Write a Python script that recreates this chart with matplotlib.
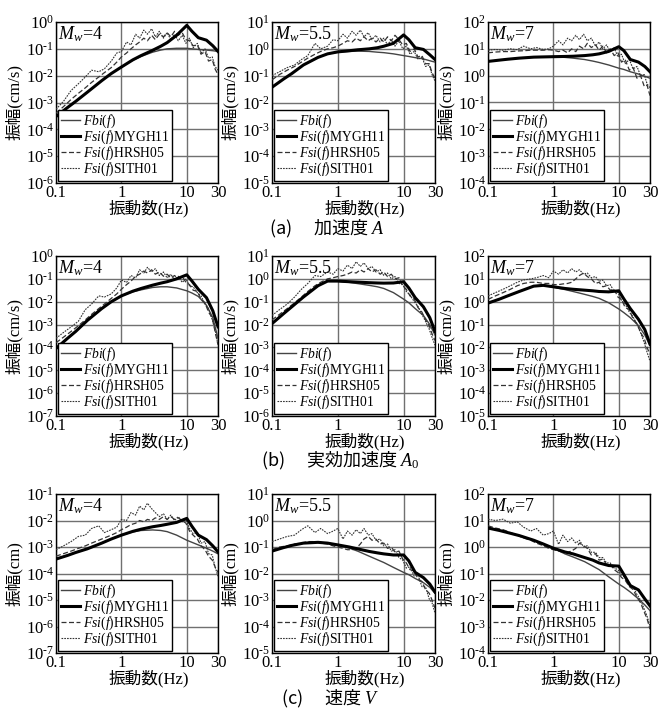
import matplotlib
matplotlib.use('Agg')
import matplotlib.pyplot as plt
from matplotlib.ticker import FixedLocator, FixedFormatter, NullLocator

plt.rcParams['font.family'] = ['Liberation Serif', 'Noto Sans CJK JP']
plt.rcParams['mathtext.fontset'] = 'custom'
plt.rcParams['mathtext.rm'] = 'Liberation Serif'
plt.rcParams['mathtext.it'] = 'Liberation Serif:italic'

# frequencies (Hz): smooth model curves / noisy observed spectra
f_s = [0.1, 0.15, 0.2, 0.3, 0.5, 0.7, 1, 1.5, 2, 3, 4, 5, 7, 10, 12, 15, 20, 25, 30]
f_n = [0.1, 0.13, 0.17, 0.22, 0.28, 0.35, 0.45, 0.55, 0.7, 0.85, 1.0, 1.2, 1.4, 1.65,
       1.9, 2.2, 2.5, 2.9, 3.3, 3.8, 4.4, 5.0, 5.7, 6.5, 7.4, 8.5, 9.7, 11, 12.5, 14.5,
       16.5, 19, 21.5, 24.5, 27, 30]

# (a) acceleration A
a4_fbi = [3e-4, 6.5e-4, 1.1e-3, 2.4e-3, 6.5e-3, 1.2e-2, 2.1e-2, 3.8e-2, 5.2e-2, 7.5e-2, 9e-2, 0.1, 0.105, 0.105, 0.1, 0.095, 0.09, 0.085, 0.08]
a4_mygh = [3e-4, 6.5e-4, 1.1e-3, 2.4e-3, 6.5e-3, 1.2e-2, 2.1e-2, 3.9e-2, 5.6e-2, 8.8e-2, 0.125, 0.17, 0.32, 0.75, 0.45, 0.26, 0.21, 0.13, 0.08]
a4_hrsh = [4e-4, 7e-4, 1.3e-3, 2.2e-3, 3.5e-3, 5.6e-3, 8.9e-3, 1.3e-2, 2e-2, 3.2e-2, 5e-2, 7e-2, 0.1, 0.14, 0.18, 0.25, 0.2, 0.32, 0.22, 0.35, 0.28, 0.4, 0.28, 0.45, 0.32, 0.4, 0.22, 0.2, 0.13, 0.14, 6.3e-2, 7.9e-2, 3.5e-2, 4e-2, 1.8e-2, 1.1e-2]
a4_sith = [5.6e-4, 1.1e-3, 2.8e-3, 5e-3, 8.9e-3, 1.6e-2, 1.4e-2, 1.8e-2, 3.5e-2, 7e-2, 7.9e-2, 0.18, 0.14, 0.35, 0.25, 0.5, 0.35, 0.56, 0.28, 0.45, 0.25, 0.4, 0.22, 0.35, 0.2, 0.32, 0.16, 0.25, 0.11, 0.16, 7e-2, 0.1, 4.5e-2, 5e-2, 2.2e-2, 1.6e-2]

a55_fbi = [0.037, 0.075, 0.12, 0.25, 0.48, 0.65, 0.75, 0.8, 0.82, 0.8, 0.75, 0.72, 0.65, 0.56, 0.52, 0.47, 0.42, 0.36, 0.32]
a55_mygh = [0.037, 0.075, 0.12, 0.25, 0.48, 0.65, 0.77, 0.85, 0.92, 1.0, 1.1, 1.25, 1.6, 3.3, 2.2, 1.1, 0.95, 0.6, 0.4]
a55_hrsh = [0.07, 0.11, 0.16, 0.22, 0.32, 0.45, 0.63, 0.8, 1.0, 1.1, 1.26, 1.6, 2.0, 1.8, 2.5, 2.0, 2.8, 2.0, 2.5, 1.8, 2.5, 1.8, 2.8, 2.0, 3.2, 2.2, 1.4, 1.6, 0.8, 1.0, 0.5, 0.56, 0.28, 0.28, 0.13, 0.08]
a55_sith = [0.1, 0.14, 0.2, 0.25, 0.4, 0.56, 1.6, 1.0, 1.26, 2.2, 2.0, 3.5, 2.5, 4.5, 3.2, 5.0, 2.8, 4.0, 2.2, 3.2, 1.8, 2.5, 1.4, 2.2, 1.26, 2.0, 1.0, 1.26, 0.63, 0.8, 0.4, 0.5, 0.22, 0.25, 0.11, 0.063]

a7_fbi = [3.4, 3.8, 4.1, 4.5, 4.9, 5.0, 5.0, 4.8, 4.5, 4.0, 3.5, 3.1, 2.5, 1.9, 1.7, 1.4, 1.15, 0.95, 0.8]
a7_mygh = [3.4, 3.8, 4.1, 4.5, 4.9, 5.0, 5.1, 5.2, 5.3, 5.6, 6.0, 6.5, 8.0, 12, 8.5, 4.0, 3.2, 2.2, 1.4]
a7_hrsh = [7.1, 7.6, 7.9, 7.9, 8.3, 8.5, 8.9, 8.9, 8.9, 9.3, 8.9, 7.9, 8.9, 7.1, 10, 7.9, 12.6, 10, 16, 11.2, 14, 8.9, 12.6, 7.1, 10, 5.6, 7.1, 3.2, 4.0, 1.6, 2.0, 0.8, 1.0, 0.4, 0.45, 0.18]
a7_sith = [8.9, 9.5, 8.9, 10, 9.3, 12.6, 10, 11.2, 9.5, 10, 12.6, 20, 14, 25, 20, 32, 22, 35, 20, 25, 12.6, 18, 10, 14, 7.9, 11, 5, 6.3, 2.8, 4, 1.8, 2.2, 1.0, 1.1, 0.5, 0.35]

# (b) effective acceleration A0
b4_fbi = [9e-5, 2.5e-4, 5e-4, 1.5e-3, 5e-3, 1e-2, 1.8e-2, 2.7e-2, 3.3e-2, 4.2e-2, 4.5e-2, 4.5e-2, 4e-2, 3e-2, 2.4e-2, 1.7e-2, 7e-3, 2e-3, 2.5e-4]
b4_mygh = [9e-5, 2.5e-4, 5e-4, 1.5e-3, 5e-3, 1e-2, 1.8e-2, 2.9e-2, 3.8e-2, 5.3e-2, 6.5e-2, 7.5e-2, 0.1, 0.15, 0.08, 0.035, 0.015, 4e-3, 8e-4]
b4_hrsh = [1.6e-4, 2.8e-4, 5e-4, 8.9e-4, 1.6e-3, 2.8e-3, 5e-3, 7.9e-3, 1.4e-2, 2.2e-2, 3.5e-2, 5.6e-2, 7.9e-2, 0.13, 0.16, 0.22, 0.18, 0.25, 0.16, 0.2, 0.13, 0.16, 0.11, 0.14, 0.1, 0.13, 7e-2, 5.6e-2, 3.2e-2, 2.8e-2, 1.3e-2, 8.9e-3, 3.5e-3, 2e-3, 5e-4, 1.3e-4]
b4_sith = [2.5e-4, 4.5e-4, 7.9e-4, 1.4e-3, 4.5e-3, 7.9e-3, 1.8e-2, 1.6e-2, 2.2e-2, 4e-2, 8.9e-2, 7e-2, 0.14, 0.11, 0.25, 0.18, 0.32, 0.2, 0.28, 0.14, 0.2, 0.11, 0.16, 8.9e-2, 0.13, 7e-2, 0.1, 5e-2, 4.5e-2, 2.5e-2, 1.8e-2, 7.9e-3, 5e-3, 1.6e-3, 6.3e-4, 1.3e-4]

b55_fbi = [0.011, 0.03, 0.06, 0.16, 0.5, 0.8, 0.78, 0.7, 0.62, 0.52, 0.45, 0.38, 0.25, 0.13, 0.09, 0.05, 0.025, 0.01, 3.5e-3]
b55_mygh = [0.011, 0.03, 0.06, 0.16, 0.5, 0.8, 0.8, 0.75, 0.72, 0.68, 0.66, 0.65, 0.66, 0.75, 0.4, 0.15, 0.06, 0.02, 5e-3]
b55_hrsh = [0.016, 0.028, 0.05, 0.089, 0.16, 0.28, 0.5, 0.71, 1.0, 1.12, 1.26, 1.4, 1.6, 2.0, 1.8, 2.5, 2.0, 2.8, 2.0, 2.5, 1.6, 2.0, 1.26, 1.6, 1.0, 1.12, 0.5, 0.35, 0.18, 0.13, 0.056, 0.035, 0.016, 8.9e-3, 4e-3, 2e-3]
b55_sith = [0.025, 0.045, 0.079, 0.16, 0.35, 0.63, 1.4, 1.26, 2.0, 1.6, 2.8, 2.2, 4.0, 2.8, 5.6, 3.5, 5.0, 2.8, 3.5, 2.0, 2.5, 1.4, 1.8, 1.0, 1.26, 0.63, 0.56, 0.28, 0.2, 0.1, 0.063, 0.028, 0.014, 6.3e-3, 2.8e-3, 1.26e-3]

b7_fbi = [0.87, 1.3, 1.8, 2.8, 4.8, 5.2, 4.3, 3.4, 2.8, 2.1, 1.7, 1.4, 0.9, 0.48, 0.33, 0.2, 0.09, 0.035, 0.012]
b7_mygh = [0.87, 1.3, 1.8, 2.8, 4.8, 5.2, 4.5, 3.8, 3.5, 3.2, 3.0, 2.8, 2.7, 3.0, 1.3, 0.5, 0.17, 0.06, 0.014]
b7_hrsh = [1.26, 1.8, 2.5, 3.5, 5.0, 6.3, 7.1, 7.1, 6.3, 6.3, 5.6, 5.6, 6.0, 6.3, 7.1, 10, 14, 18, 12.6, 10, 6.3, 7.1, 4.5, 5.0, 3.2, 3.5, 1.6, 1.26, 0.56, 0.45, 0.18, 0.11, 0.045, 0.025, 0.01, 5e-3]
b7_sith = [1.8, 2.5, 3.5, 5.0, 7.1, 8.9, 10, 11.2, 14, 11.2, 22, 16, 25, 18, 28, 20, 25, 16, 18, 11.2, 12.6, 7.9, 8.9, 5.0, 5.6, 2.8, 2.5, 1.12, 0.79, 0.35, 0.22, 0.1, 0.045, 0.016, 6.3e-3, 2.5e-3]

# (c) velocity V
c4_fbi = [3.5e-4, 4.8e-4, 6.2e-4, 8.5e-4, 1.4e-3, 2e-3, 2.8e-3, 3.7e-3, 4.2e-3, 4.4e-3, 4.2e-3, 3.8e-3, 2.8e-3, 1.8e-3, 1.5e-3, 1.2e-3, 9e-4, 7e-4, 5.5e-4]
c4_mygh = [3.5e-4, 4.8e-4, 6.2e-4, 8.5e-4, 1.4e-3, 2e-3, 2.8e-3, 3.9e-3, 4.7e-3, 5.8e-3, 6.5e-3, 7.2e-3, 8.5e-3, 1.2e-2, 6e-3, 2.8e-3, 1.9e-3, 1.1e-3, 6.5e-4]
c4_hrsh = [4.5e-4, 5.6e-4, 7e-4, 8.9e-4, 1.1e-3, 1.4e-3, 1.8e-3, 2.2e-3, 2.8e-3, 3.5e-3, 4.5e-3, 5.6e-3, 7e-3, 7.9e-3, 1e-2, 8.9e-3, 1.1e-2, 1e-2, 1.26e-2, 1.1e-2, 1.4e-2, 1.1e-2, 1.4e-2, 1.1e-2, 1.26e-2, 1e-2, 7.9e-3, 4e-3, 2.8e-3, 2e-3, 1.1e-3, 7.9e-4, 4.5e-4, 3.2e-4, 1.8e-4, 1.1e-4]
c4_sith = [7.9e-4, 1.1e-3, 1.6e-3, 2.5e-3, 2.8e-3, 5e-3, 6.3e-3, 3.5e-3, 4.5e-3, 5.6e-3, 1.1e-2, 1e-2, 2e-2, 1.6e-2, 3.5e-2, 2.5e-2, 4.5e-2, 2.8e-2, 2e-2, 1.4e-2, 1.8e-2, 1.1e-2, 1.6e-2, 1e-2, 1.4e-2, 8.9e-3, 1.1e-2, 5e-3, 3.2e-3, 3.5e-3, 1.4e-3, 1.6e-3, 5.6e-4, 5e-4, 1.8e-4, 7.9e-5]

c55_fbi = [0.07, 0.095, 0.115, 0.14, 0.15, 0.14, 0.12, 0.09, 0.07, 0.045, 0.033, 0.026, 0.017, 0.011, 0.009, 0.0065, 0.0045, 0.003, 0.0018]
c55_mygh = [0.07, 0.095, 0.115, 0.14, 0.15, 0.14, 0.12, 0.1, 0.085, 0.068, 0.06, 0.055, 0.05, 0.05, 0.03, 0.011, 0.007, 0.004, 0.002]
c55_hrsh = [0.079, 0.1, 0.11, 0.13, 0.14, 0.16, 0.16, 0.14, 0.13, 0.11, 0.1, 0.089, 0.079, 0.079, 0.089, 0.13, 0.2, 0.25, 0.18, 0.2, 0.13, 0.14, 0.089, 0.1, 0.063, 0.07, 0.035, 0.025, 0.014, 0.0126, 6.3e-3, 5e-3, 2.5e-3, 1.8e-3, 1e-3, 5e-4]
c55_sith = [0.16, 0.2, 0.25, 0.28, 0.45, 0.63, 0.35, 0.5, 0.32, 0.4, 0.5, 0.2, 0.4, 0.28, 0.45, 0.32, 0.5, 0.28, 0.32, 0.18, 0.2, 0.11, 0.13, 0.07, 0.079, 0.04, 0.032, 0.016, 0.018, 7.9e-3, 8.9e-3, 3.2e-3, 3.2e-3, 1.1e-3, 7.9e-4, 3.2e-4]

c7_fbi = [5.2, 4.2, 3.5, 2.7, 1.8, 1.3, 0.9, 0.55, 0.42, 0.28, 0.19, 0.14, 0.075, 0.04, 0.03, 0.02, 0.011, 0.0065, 0.004]
c7_mygh = [5.2, 4.2, 3.5, 2.7, 1.8, 1.3, 0.9, 0.65, 0.55, 0.4, 0.32, 0.25, 0.2, 0.19, 0.09, 0.035, 0.024, 0.011, 0.006]
c7_hrsh = [6.3, 5.2, 4.5, 3.5, 2.8, 2.2, 1.8, 1.4, 1.12, 0.89, 0.79, 0.71, 0.63, 0.63, 0.71, 0.89, 1.4, 1.12, 0.89, 0.5, 0.56, 0.32, 0.35, 0.22, 0.22, 0.14, 0.11, 0.071, 0.056, 0.032, 0.025, 0.0126, 7.9e-3, 3.5e-3, 2e-3, 7.9e-4]
c7_sith = [11.2, 10, 11.2, 7.9, 8.9, 5.6, 4.0, 5.0, 2.8, 3.2, 4.0, 1.26, 2.8, 1.6, 2.2, 1.4, 1.8, 1.0, 1.12, 0.63, 0.63, 0.4, 0.4, 0.25, 0.25, 0.16, 0.14, 0.089, 0.071, 0.04, 0.032, 0.016, 0.01, 4.5e-3, 2.5e-3, 1e-3]

mw_labels = ['4', '5.5', '7']
ylims = [[(-6, 0), (-5, 1), (-4, 2)],
         [(-7, 0), (-6, 1), (-5, 2)],
         [(-7, -1), (-5, 1), (-4, 2)]]
ylabels = ['振幅(cm/s)', '振幅(cm/s)', '振幅(cm)']
captions = ['(a)\u3000 加速度 $A$', '(b)\u3000 実効加速度 $A_0$', '(c)\u3000 速度 $V$']
leg_labels = ['$Fbi$($f$)', '$Fsi$($f$)MYGH11', '$Fsi$($f$)HRSH05', '$Fsi$($f$)SITH01']
xticks = [0.1, 1, 10, 30]
xticklabels = ['0.1', '1', '10', '30']

data = [[(a4_fbi, a4_mygh, a4_hrsh, a4_sith), (a55_fbi, a55_mygh, a55_hrsh, a55_sith), (a7_fbi, a7_mygh, a7_hrsh, a7_sith)],
        [(b4_fbi, b4_mygh, b4_hrsh, b4_sith), (b55_fbi, b55_mygh, b55_hrsh, b55_sith), (b7_fbi, b7_mygh, b7_hrsh, b7_sith)],
        [(c4_fbi, c4_mygh, c4_hrsh, c4_sith), (c55_fbi, c55_mygh, c55_hrsh, c55_sith), (c7_fbi, c7_mygh, c7_hrsh, c7_sith)]]

W, H = 658, 717
cols = [(56, 218), (272, 435), (488, 650)]
rows = [(22, 183), (256, 416), (494, 653)]
cap_pos = [(327, 229), (340, 461), (330, 699)]


def exp_label(e):
    # short hyphen in the exponent like the original figure
    s = ('\u2010%d' % -e) if e < 0 else '%d' % e
    return '$\\mathrm{10^{%s}}$' % s


fig = plt.figure(figsize=(W / 100, H / 100), dpi=100)

for r in range(3):
    t, b = rows[r]
    for c in range(3):
        l, rr = cols[c]
        ax = fig.add_axes([l / W, 1 - b / H, (rr - l) / W, (b - t) / H])
        fbi, mygh, hrsh, sith = data[r][c]
        ax.plot(f_s, fbi, color='#444444', lw=1.0, zorder=3, label=leg_labels[0])
        ax.plot(f_s, mygh, color='black', lw=2.2, zorder=5, label=leg_labels[1])
        ax.plot(f_n, hrsh, color='#333333', lw=0.9, dashes=(4, 2), zorder=4, label=leg_labels[2])
        ax.plot(f_n, sith, color='#333333', lw=0.8, dashes=(1.5, 1), zorder=4, label=leg_labels[3])
        ax.set_xscale('log')
        ax.set_yscale('log')
        lo, hi = ylims[r][c]
        ax.set_xlim(0.1, 30)
        ax.set_ylim(10.0 ** lo, 10.0 ** hi)
        ax.xaxis.set_major_locator(FixedLocator(xticks))
        ax.xaxis.set_major_formatter(FixedFormatter(xticklabels))
        ax.xaxis.set_minor_locator(NullLocator())
        ax.yaxis.set_major_locator(FixedLocator([10.0 ** e for e in range(lo, hi + 1)]))
        ax.yaxis.set_major_formatter(FixedFormatter([exp_label(e) for e in range(lo, hi + 1)]))
        ax.yaxis.set_minor_locator(NullLocator())
        ax.tick_params(length=0, labelsize=12, pad=1.5)
        for lab in ax.get_xticklabels() + ax.get_yticklabels():
            lab.set_family('Liberation Serif')
        ax.grid(True, color='#707070', lw=1.0, zorder=1)
        for s in ax.spines.values():
            s.set_linewidth(1.0)
        ax.set_xlabel('振動数(Hz)', fontsize=12)
        ax.xaxis.set_label_coords(0.57, -0.105)
        ax.set_ylabel(ylabels[r], fontsize=12)
        ax.yaxis.set_label_coords(-0.205, 0.5)
        ax.text(0.01, 0.985, '$M_w$=' + mw_labels[c], transform=ax.transAxes,
                fontsize=13, va='top', ha='left', zorder=6)
        leg = ax.legend(loc='lower left', bbox_to_anchor=(0, 0), borderaxespad=0.15,
                        fontsize=9.8, handlelength=1.4, handletextpad=0.2,
                        labelspacing=-0.1, borderpad=0.2, fancybox=False,
                        framealpha=1, edgecolor='black')
        leg.get_frame().set_linewidth(1.0)
        leg.set_zorder(10)
    cx, cy = cap_pos[r]
    fig.text(cx / W, 1 - cy / H, captions[r], fontsize=13, ha='center', va='center',
             family=['Noto Sans CJK JP', 'DejaVu Sans'])

fig.savefig('out.png', dpi=100)
